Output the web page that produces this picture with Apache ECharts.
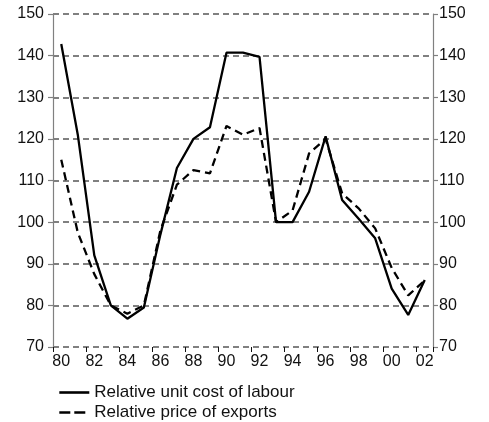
<!DOCTYPE html>
<html>
<head>
<meta charset="utf-8">
<script src="https://cdn.jsdelivr.net/npm/echarts@6/dist/echarts.min.js"></script>
<style>
  html, body { margin: 0; padding: 0; background: #fff; }
  #chart { width: 489px; height: 422px; }
</style>
</head>
<body>
<div id="chart"></div>
<script>
// years 1980-2002, two-digit labels
const years = ['80', '81', '82', '83', '84', '85', '86', '87', '88', '89', '90', '91',
  '92', '93', '94', '95', '96', '97', '98', '99', '00', '01', '02']
const labourCost = [142.8, 121, 92, 80, 76.8, 79.5, 97, 113, 120, 122.8, 140.7, 140.7,
  139.7, 100, 100, 107.3, 120.6, 105.3, 100.8, 96.1, 84, 77.7, 86.1]
const exportPrice = [115, 97.5, 87.5, 80, 78, 80, 98, 109, 112.5, 111.7, 123.1, 121,
  122.6, 100, 102.8, 116.5, 120, 106.9, 103.3, 98.5, 89, 82.4, 86]
const seriesNames = ['Relative unit cost of labour', 'Relative price of exports']

const font = 'Liberation Sans, Arial, sans-serif'
const grey = '#808080'

const yAxisBase = {
  type: 'value',
  min: 70,
  max: 150,
  interval: 10,
  axisLine: { show: true, lineStyle: { color: grey, width: 1.2 } },
  axisTick: { show: true, length: 5, lineStyle: { color: grey, width: 1.2 } },
  axisLabel: { color: '#111', fontSize: 16, fontFamily: font },
  splitLine: { show: true, lineStyle: { color: grey, width: 1.8, type: [6, 4] } }
}

function legendRow (name, top, dash) {
  return {
    left: 53,
    top: top,
    itemWidth: 30,
    itemHeight: 14,
    itemStyle: { opacity: 0 },
    lineStyle: dash ? { width: 2.6, type: dash } : { width: 2.6 },
    textStyle: { color: '#111', fontSize: 17, fontFamily: font },
    data: [name]
  }
}

const chart = echarts.init(document.getElementById('chart'))
chart.setOption({
  animation: false,
  grid: { left: 53, right: 56, top: 14, bottom: 75 },
  legend: [legendRow(seriesNames[0], 379), legendRow(seriesNames[1], 399, [11, 4])],
  xAxis: {
    type: 'category',
    data: years,
    boundaryGap: true,
    axisLine: { show: false },
    axisTick: { show: true, length: 5, lineStyle: { color: '#111', width: 1 } },
    axisLabel: { interval: 1, color: '#111', fontSize: 16, fontFamily: font, margin: 7 }
  },
  yAxis: [
    Object.assign({}, yAxisBase, { position: 'left', axisLabel: Object.assign({}, yAxisBase.axisLabel, { margin: 9 }) }),
    Object.assign({}, yAxisBase, { position: 'right', splitLine: { show: false }, axisLabel: Object.assign({}, yAxisBase.axisLabel, { margin: 6 }) })
  ],
  series: [
    {
      name: seriesNames[0],
      type: 'line',
      data: labourCost,
      symbol: 'none',
      lineStyle: { color: '#000', width: 2.3 },
      itemStyle: { color: '#000' },
      z: 3
    },
    {
      name: seriesNames[1],
      type: 'line',
      data: exportPrice,
      symbol: 'none',
      lineStyle: { color: '#000', width: 2.3, type: [8, 5] },
      itemStyle: { color: '#000' },
      z: 2
    }
  ]
})
</script>
</body>
</html>
